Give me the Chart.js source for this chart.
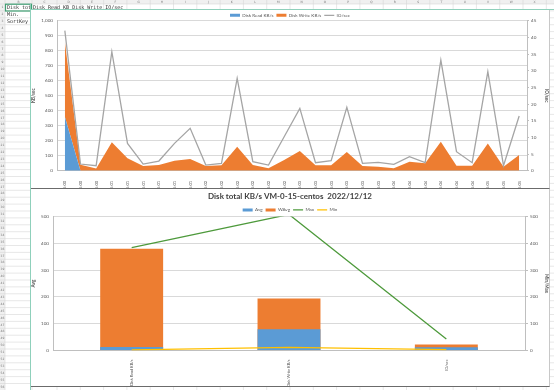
<!DOCTYPE html>
<html><head><meta charset="utf-8">
<script src="https://cdn.jsdelivr.net/npm/chart.js@4.4.0/dist/chart.umd.min.js"></script>
<style>
html,body{margin:0;padding:0;width:554px;height:390px;overflow:hidden;background:#fff;}
#bg{position:absolute;left:0;top:0;}
#c1wrap{position:absolute;left:31px;top:10px;width:518px;height:178px;background:#fff;border-bottom:1px solid #6b6b6b;border-right:1px solid #c8c8c8;}
#c2wrap{position:absolute;left:31px;top:189px;width:518px;height:197px;background:#fff;border-bottom:1px solid #6b6b6b;border-right:1px solid #c8c8c8;}
</style></head><body>
<canvas id="bg" width="554" height="390"></canvas>
<div id="c1wrap"><canvas id="c1" width="518" height="178"></canvas></div>
<div id="c2wrap"><canvas id="c2" width="518" height="197"></canvas></div>
<script>
// ---------- data ----------
const timeLabels = ['15:00','15:00','15:00','15:01','15:01','15:01','15:01','15:01','15:01','15:02',
                    '15:02','15:02','15:02','15:02','15:02','15:03','15:03','15:03','15:03','15:03',
                    '15:03','15:04','15:04','15:04','15:04','15:04','15:04','15:05','15:05','15:05'];
const diskReadKB  = [360,0,0,0,0,0,0,0,0,0, 0,0,0,0,0,0,0,0,0,0, 0,0,0,0,0,0,0,0,0,0];
const diskWriteKB = [500,40,15,189,83,31,38,67,78,31, 36,160,38,16,71,131,36,36,125,31, 27,16,60,49,193,33,33,182,27,105];
const ioPerSec    = [42,2,1.5,35.7,8.2,2,2.9,8.2,12.7,1.7, 2.2,27.7,2.7,1.7,10.2,18.7,2.4,3,19,2.2, 2.5,1.9,4.2,2.4,33.2,5.7,2.4,29.7,1.5,16.4];

const summaryCategories = ['Disk Read KB/s','Disk Write KB/s','IO/sec'];
const avgValues  = [13, 79, 12];
const wavgValues = [380, 194, 22];
const maxValues  = [384, 508, 43];
const minValues  = [2, 12, 3];

const summaryTitle = 'Disk total KB/s VM-0-15-centos  2022/12/12';
const sheetRow1 = 'Disk Read KB Disk Write IO/sec';

// ---------- spreadsheet background ----------
(function(){
  const g = document.getElementById('bg').getContext('2d');
  g.fillStyle='#fff'; g.fillRect(0,0,554,390);
  g.fillStyle='#f0f0f0'; g.fillRect(0,0,554,4); g.fillRect(0,0,5,390);
  g.strokeStyle='#d6d6d6'; g.lineWidth=0.6;
  for(let y=4;y<390;y+=6.9){ g.beginPath(); g.moveTo(0,y); g.lineTo(554,y); g.stroke(); }
  const cols=[5,32]; for(let x=33.7+23.3;x<554;x+=23.3) cols.push(x);
  cols.forEach(x=>{ g.beginPath(); g.moveTo(x,0); g.lineTo(x,390); g.stroke(); });
  g.fillStyle='#777'; g.font='3px "DejaVu Sans"'; g.textAlign='center'; g.textBaseline='middle';
  const letters='BCDEFGHIJKLMNOPQRSTUVWXYZ';
  for(let i=0;i<cols.length-1 && i<letters.length;i++){ g.fillText(letters[i], (cols[i]+cols[i+1])/2, 2.2); }
  for(let r=0, y=4;y<390;y+=6.9,r++){ g.fillText(String(r+1), 2.5, y+3.4); }
  g.fillStyle='#333'; g.font='5px "DejaVu Sans Mono"'; g.textAlign='left';
  g.fillText('Disk tot', 7, 7.6);
  g.fillText(sheetRow1, 33, 7.6);
  g.fillText('Min.', 7, 14.4);
  g.fillText('SortKey', 7, 21.3);
  g.strokeStyle='#3f9e72'; g.lineWidth=1.2; g.strokeRect(5.5,4.2,26,6.8);
  g.strokeStyle='#8fd0bb'; g.lineWidth=1;
  g.beginPath(); g.moveTo(30.5,4); g.lineTo(30.5,390); g.stroke();
  g.beginPath(); g.moveTo(30,9.5); g.lineTo(554,9.5); g.stroke();
})();

const FONT = 'Lato, "Liberation Sans", sans-serif';
Chart.defaults.font.family = FONT;
Chart.defaults.color = '#595959';
Chart.defaults.animation = false;

function legendHeight(h){
  return { id:'legendH'+h, beforeInit(chart){ const f = chart.legend.fit; chart.legend.fit = function(){ f.bind(this)(); this.height = h; }; } };
}
const bySetIndex = (a,b)=>a.datasetIndex-b.datasetIndex;

// ---------- top chart ----------
new Chart(document.getElementById('c1'), {
  type:'line',
  data:{ labels: timeLabels, datasets:[
    {label:'Disk Read KB/s', data:diskReadKB, yAxisID:'y', fill:'origin', backgroundColor:'#5b9bd5', borderColor:'#5b9bd5', borderWidth:0, pointRadius:0, order:1, pointStyle:'rect', tension:0},
    {label:'Disk Write KB/s', data:diskWriteKB, yAxisID:'y', fill:'-1', backgroundColor:'#ed7d31', borderColor:'#ed7d31', borderWidth:0, pointRadius:0, order:1, pointStyle:'rect', tension:0},
    {label:'IO/sec', data:ioPerSec, yAxisID:'y1', fill:false, borderColor:'#a5a5a5', backgroundColor:'#a5a5a5', borderWidth:1.3, pointRadius:0, order:0, pointStyle:'line', tension:0}
  ]},
  options:{
    responsive:false, maintainAspectRatio:false,
    layout:{padding:0},
    plugins:{
      legend:{ position:'top', labels:{ font:{size:4.6}, usePointStyle:true, pointStyleWidth:10, boxHeight:3, padding:3, sort:bySetIndex } },
      tooltip:{enabled:false}
    },
    scales:{
      x:{ offset:true, grid:{display:false}, border:{color:'#bfbfbf'},
          ticks:{ font:{size:4.2}, maxRotation:90, minRotation:90, autoSkip:false, padding:2 },
          afterFit:s=>{ s.height = 17.3; } },
      y:{ stacked:true, min:0, max:1000, position:'left',
          ticks:{ stepSize:100, font:{size:4.6}, padding:4 },
          grid:{ color:'#d9d9d9', drawTicks:false }, border:{display:true, color:'#bfbfbf'},
          title:{ display:true, text:'KB/sec', font:{size:4.6, weight:'bold'}, padding:0 },
          afterFit:s=>{ s.width = 26; } },
      y1:{ position:'right', min:0, max:45,
           ticks:{ stepSize:5, font:{size:4.6}, padding:2 },
           grid:{ drawOnChartArea:false, tickLength:2, color:'#bfbfbf' }, border:{display:true, color:'#bfbfbf'},
           title:{ display:true, text:'IO/sec', font:{size:4.6, weight:'bold'}, padding:0 },
           afterFit:s=>{ s.width = 22; } }
    }
  },
  plugins:[legendHeight(10.7)]
});

// ---------- bottom chart ----------
new Chart(document.getElementById('c2'), {
  type:'bar',
  data:{ labels: summaryCategories, datasets:[
    {label:'Avg', data:avgValues, yAxisID:'y', backgroundColor:'#5b9bd5', order:1, pointStyle:'rect', categoryPercentage:0.4, barPercentage:1},
    {label:'WAvg', data:wavgValues, yAxisID:'y', backgroundColor:'#ed7d31', order:2, pointStyle:'rect', categoryPercentage:0.4, barPercentage:1},
    {type:'line', label:'Max', data:maxValues, yAxisID:'y1', borderColor:'#4e9a3c', backgroundColor:'#4e9a3c', borderWidth:1.3, pointRadius:0, order:0, pointStyle:'line', tension:0},
    {type:'line', label:'Min', data:minValues, yAxisID:'y1', borderColor:'#ffc000', backgroundColor:'#ffc000', borderWidth:1.3, pointRadius:0, order:0, pointStyle:'line', tension:0}
  ]},
  options:{
    responsive:false, maintainAspectRatio:false,
    layout:{padding:0},
    plugins:{
      title:{ display:true, text:summaryTitle, color:'#404040', font:{size:8, weight:'bold'}, padding:{top:3, bottom:3} },
      legend:{ position:'top', labels:{ font:{size:4.6}, usePointStyle:true, pointStyleWidth:10, boxHeight:3, padding:3, sort:bySetIndex } },
      tooltip:{enabled:false}
    },
    scales:{
      x:{ stacked:true, grid:{display:false}, border:{color:'#bfbfbf'},
          ticks:{ font:{size:3.9}, maxRotation:90, minRotation:90, autoSkip:false, padding:1 },
          afterFit:s=>{ s.height = 35.5; } },
      y:{ stacked:false, min:0, max:500, position:'left',
          ticks:{ stepSize:100, font:{size:4.6}, padding:4 },
          grid:{ color:'#d9d9d9', drawTicks:false }, border:{display:true, color:'#bfbfbf'},
          title:{ display:true, text:'Avg', font:{size:4.6, weight:'bold'}, padding:0 },
          afterFit:s=>{ s.width = 22; } },
      y1:{ position:'right', min:0, max:500,
           ticks:{ stepSize:100, font:{size:4.6}, padding:2 },
           grid:{ drawOnChartArea:false, tickLength:3, color:'#bfbfbf' }, border:{display:true, color:'#bfbfbf'},
           title:{ display:true, text:'Min/Max', font:{size:4.6, weight:'bold'}, padding:0 },
           afterFit:s=>{ s.width = 24; } }
    }
  },
  plugins:[legendHeight(12)]
});
</script>
</body></html>
